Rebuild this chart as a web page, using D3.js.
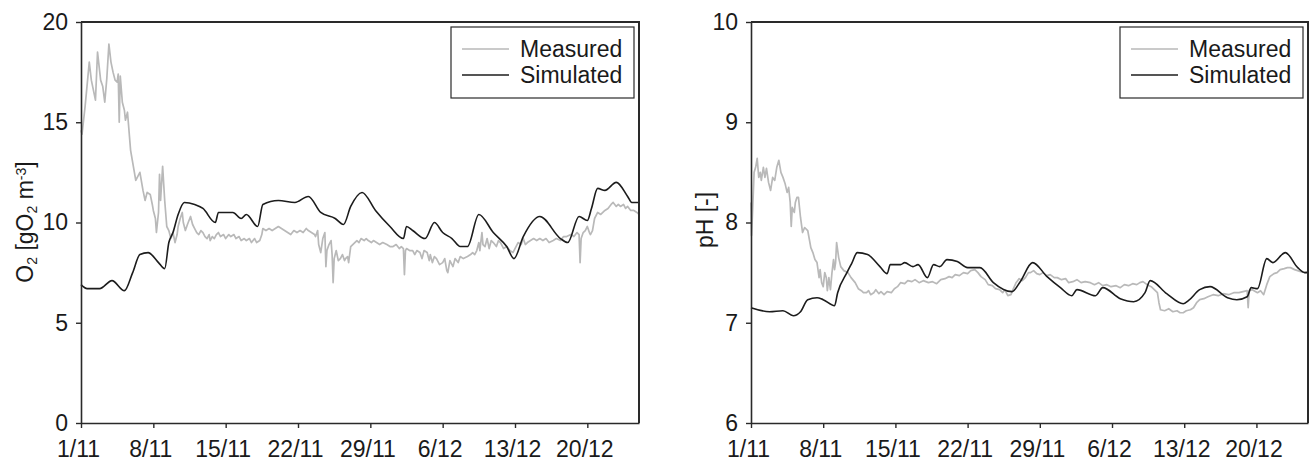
<!DOCTYPE html>
<html>
<head>
<meta charset="utf-8">
<script src="https://cdn.jsdelivr.net/npm/d3@7"></script>
<style>
  html, body { margin: 0; padding: 0; background: #fff; }
  svg { display: block; font-family: "Liberation Sans", Arial, sans-serif; }
</style>
</head>
<body>
<svg id="chart" width="1314" height="466"></svg>
<script>
// Time axis: day offsets counted from 1 November
const xTickDays = [0, 7, 14, 21, 28, 35, 42, 49];
const xTickLabels = ["1/11", "8/11", "15/11", "22/11", "29/11", "6/12", "13/12", "20/12"];
const dayRange = [0, 54];

const o2Ticks = [0, 5, 10, 15, 20];
const phTicks = [6, 7, 8, 9, 10];

const seriesNames = ["Measured", "Simulated"];

// Dissolved oxygen [gO2 m-3], [day, value]
const o2Measured = [
  [0,14.6],[0.1,14.4],[0.4,15.8],[0.8,18.0],[1.0,17.1],[1.2,16.6],[1.4,16.1],[1.6,18.5],
  [1.9,17.1],[2.1,16.8],[2.3,16.0],[2.5,17.2],[2.7,18.9],[2.9,18.0],[3.1,17.5],[3.3,17.1],
  [3.5,17.0],[3.6,17.4],[3.7,15.0],[3.8,17.3],[4.0,16.0],[4.2,15.6],[4.3,15.1],[4.5,15.5],
  [4.8,13.6],[5.0,13.0],[5.3,12.1],[5.5,12.3],[5.7,12.5],[6.0,11.6],[6.2,11.1],[6.4,11.5],
  [6.7,11.4],[6.9,10.9],[7.0,10.6],[7.2,10.2],[7.3,9.5],[7.5,10.5],[7.6,12.4],[7.7,11.1],
  [7.9,12.8],[8.1,11.1],[8.3,9.8],[8.5,9.6],[8.7,9.2],[8.9,9.5],[9.1,9.0],[9.3,9.4],
  [9.4,9.8],[9.6,10.2],[9.8,10.5],[9.9,10.0],[10.1,9.6],[10.3,9.9],[10.6,10.3],[10.8,9.9],
  [11.0,9.7],[11.2,9.5],[11.4,9.4],[11.6,9.6],[11.8,9.5],[12.0,9.3],[12.2,9.2],[12.4,9.4],
  [12.5,9.1],[12.7,9.3],[12.9,9.2],[13.1,9.4],[13.3,9.5],[13.5,9.3],[13.8,9.4],[14.0,9.2],
  [14.3,9.4],[14.5,9.3],[14.8,9.4],[15.0,9.2],[15.3,9.3],[15.5,9.1],[15.8,9.2],[16.0,9.1],
  [16.3,9.2],[16.5,9.0],[16.8,9.2],[17.0,9.0],[17.3,9.1],[17.5,9.4],[17.6,9.7],[17.9,9.6],
  [18.2,9.7],[18.5,9.6],[18.8,9.7],[19.1,9.8],[19.4,9.7],[19.7,9.6],[20.0,9.5],[20.3,9.4],
  [20.6,9.6],[20.9,9.5],[21.2,9.6],[21.5,9.5],[21.8,9.7],[22.0,9.6],[22.3,9.5],[22.6,9.4],
  [22.7,9.3],[22.9,9.6],[23.0,8.9],[23.2,8.5],[23.4,9.2],[23.6,9.5],[23.7,7.8],[23.8,8.6],
  [24.0,8.9],[24.2,9.1],[24.3,8.4],[24.4,7.0],[24.5,8.2],[24.7,8.6],[24.9,8.1],[25.1,8.2],
  [25.3,8.4],[25.5,8.1],[25.6,8.2],[25.8,8.3],[25.9,8.0],[26.1,8.8],[26.3,8.9],[26.5,9.0],
  [26.7,9.1],[26.9,9.0],[27.1,9.2],[27.4,9.1],[27.6,9.2],[27.8,9.1],[28.1,9.0],[28.3,9.1],
  [28.6,9.0],[28.9,8.9],[29.2,9.0],[29.6,8.9],[29.9,8.8],[30.2,8.8],[30.5,8.9],[30.8,8.7],
  [31.0,8.8],[31.2,8.7],[31.3,7.4],[31.4,8.6],[31.5,8.7],[31.8,8.6],[32.1,8.6],[32.3,8.4],
  [32.5,8.6],[32.8,8.5],[33.0,8.2],[33.2,8.6],[33.5,8.5],[33.7,8.1],[33.8,8.4],[34.0,8.0],
  [34.2,8.3],[34.4,8.2],[34.7,7.9],[35.0,8.0],[35.2,8.2],[35.4,7.6],[35.5,7.5],[35.7,8.1],
  [36.0,7.8],[36.2,8.2],[36.5,8.0],[36.7,8.3],[37.0,8.2],[37.4,8.3],[37.7,8.4],[37.9,8.5],
  [38.1,8.4],[38.3,8.6],[38.5,9.0],[38.6,8.6],[38.8,9.5],[38.9,8.9],[39.1,8.8],[39.3,9.2],
  [39.5,8.7],[39.7,9.1],[39.9,9.0],[40.2,8.8],[40.4,9.1],[40.6,9.0],[40.9,8.7],[41.2,8.8],
  [41.5,8.6],[41.8,8.5],[42.0,8.7],[42.3,9.0],[42.6,8.9],[42.8,9.2],[43.0,8.9],[43.2,9.0],
  [43.5,9.1],[43.8,9.2],[44.1,9.1],[44.4,9.2],[44.7,9.1],[45.0,9.2],[45.3,9.0],[45.7,9.1],
  [46.0,9.2],[46.4,9.1],[46.7,9.3],[47.0,9.3],[47.4,9.4],[47.7,9.3],[48.0,9.5],[48.2,9.4],
  [48.3,8.0],[48.4,9.2],[48.6,9.5],[48.8,9.6],[49.0,9.8],[49.2,9.5],[49.3,9.4],[49.5,9.6],
  [49.7,10.2],[50.0,10.5],[50.3,10.4],[50.7,10.6],[51.0,10.7],[51.3,10.9],[51.5,11.0],
  [51.8,10.8],[52.0,10.9],[52.2,10.8],[52.5,10.9],[52.7,10.7],[52.9,10.8],[53.2,10.6],
  [53.5,10.6],[53.8,10.5],[54.0,10.4]
];
const o2Simulated = [
  [0,6.9],[0.6,6.7],[1.8,6.7],[3.0,7.1],[4.2,6.6],[5.0,7.5],[5.7,8.4],[6.5,8.5],
  [7.5,8.0],[8.1,7.7],[8.5,9.0],[8.9,9.5],[9.4,10.4],[10.0,11.0],[11.0,10.9],[11.8,10.7],
  [13.0,10.0],[13.3,10.5],[14.7,10.5],[15.5,10.2],[16.0,10.4],[17.1,9.8],[17.6,10.9],
  [19.1,11.1],[20.7,11.0],[22.0,11.3],[23.2,10.5],[24.6,10.2],[25.4,9.9],[26.1,10.8],
  [27.2,11.5],[28.5,10.6],[29.9,9.8],[31.2,9.2],[31.5,9.8],[32.1,9.6],[33.3,9.2],[34.2,10.0],
  [35.0,9.5],[35.9,9.2],[36.7,8.8],[37.4,8.8],[38.5,10.4],[39.9,9.5],[41.2,8.8],[41.9,8.2],
  [42.8,9.3],[44.4,10.3],[46.4,9.2],[47.1,9.0],[48.2,10.3],[49.0,10.1],[49.4,10.7],[50.0,11.7],
  [50.7,11.6],[51.8,12.0],[52.9,11.3],[53.3,11.0],[54.0,11.0]
];

// pH [-], [day, value]
const phMeasured = [
  [0,8.2],[0.05,7.87],[0.15,8.1],[0.3,8.5],[0.45,8.55],[0.6,8.64],[0.75,8.45],[0.9,8.5],
  [1.0,8.42],[1.2,8.55],[1.35,8.45],[1.5,8.54],[1.7,8.4],[1.9,8.32],[2.1,8.45],[2.3,8.42],
  [2.5,8.55],[2.7,8.62],[2.9,8.5],[3.1,8.45],[3.3,8.39],[3.5,8.3],[3.65,8.35],[3.8,8.2],
  [3.9,7.96],[4.0,8.15],[4.2,8.1],[4.3,8.2],[4.45,8.25],[4.6,8.25],[4.8,8.05],[5.0,7.9],
  [5.2,7.95],[5.5,7.92],[5.8,7.75],[6.0,7.7],[6.2,7.63],[6.4,7.6],[6.6,7.45],[6.7,7.53],
  [6.85,7.4],[7.0,7.36],[7.15,7.5],[7.3,7.45],[7.4,7.32],[7.55,7.45],[7.7,7.33],[7.85,7.5],
  [8.0,7.63],[8.1,7.53],[8.2,7.6],[8.3,7.8],[8.5,7.65],[8.7,7.56],[9.0,7.52],[9.4,7.5],
  [9.7,7.45],[10.1,7.4],[10.4,7.34],[10.7,7.32],[10.9,7.3],[11.2,7.3],[11.4,7.32],[11.6,7.28],
  [11.9,7.3],[12.1,7.33],[12.4,7.29],[12.6,7.31],[12.9,7.28],[13.2,7.31],[13.6,7.3],
  [13.9,7.34],[14.2,7.36],[14.5,7.4],[14.9,7.39],[15.2,7.42],[15.6,7.41],[15.9,7.43],
  [16.3,7.4],[16.7,7.42],[17.2,7.4],[17.6,7.41],[18.0,7.39],[18.4,7.43],[18.8,7.44],
  [19.2,7.46],[19.5,7.45],[19.8,7.48],[20.2,7.47],[20.6,7.5],[21.0,7.49],[21.3,7.52],
  [21.7,7.53],[22.0,7.5],[22.3,7.46],[22.7,7.43],[23.0,7.38],[23.4,7.37],[23.7,7.34],
  [24.1,7.33],[24.4,7.3],[24.6,7.33],[24.9,7.27],[25.2,7.28],[25.4,7.33],[25.7,7.4],
  [26.0,7.44],[26.3,7.42],[26.6,7.45],[26.9,7.5],[27.1,7.5],[27.4,7.52],[27.7,7.49],
  [28.0,7.48],[28.3,7.5],[28.7,7.47],[29.0,7.48],[29.4,7.45],[29.7,7.45],[30.1,7.43],
  [30.5,7.44],[30.8,7.4],[31.2,7.41],[31.6,7.43],[32.0,7.4],[32.4,7.41],[32.9,7.4],
  [33.3,7.38],[33.7,7.4],[34.1,7.37],[34.5,7.38],[34.9,7.36],[35.4,7.37],[35.8,7.35],
  [36.2,7.38],[36.6,7.37],[37.0,7.39],[37.4,7.38],[37.7,7.4],[38.0,7.41],[38.4,7.38],
  [38.8,7.36],[39.1,7.33],[39.4,7.3],[39.55,7.2],[39.7,7.13],[40.1,7.12],[40.5,7.14],
  [40.9,7.11],[41.3,7.12],[41.6,7.1],[41.9,7.1],[42.2,7.12],[42.6,7.13],[42.9,7.15],
  [43.2,7.2],[43.5,7.23],[43.9,7.24],[44.3,7.26],[44.8,7.28],[45.3,7.27],[45.8,7.29],
  [46.3,7.28],[46.8,7.3],[47.3,7.3],[47.7,7.31],[48.1,7.32],[48.2,7.15],[48.3,7.32],
  [48.6,7.33],[49.1,7.3],[49.4,7.32],[49.7,7.28],[50.0,7.38],[50.3,7.46],[50.7,7.49],
  [51.0,7.5],[51.3,7.53],[51.7,7.54],[52.0,7.55],[52.3,7.55],[52.7,7.53],[53.0,7.52],
  [53.3,7.51],[53.7,7.5],[54.0,7.51]
];
const phSimulated = [
  [0,7.15],[1.8,7.11],[3.1,7.12],[4.1,7.07],[4.8,7.11],[5.5,7.23],[6.4,7.25],[7.0,7.23],
  [8.1,7.17],[8.4,7.30],[9.3,7.5],[9.8,7.6],[10.3,7.7],[11.3,7.68],[12.5,7.56],[13.2,7.49],
  [13.5,7.58],[14.5,7.58],[14.9,7.6],[15.7,7.56],[16.2,7.58],[17.1,7.45],[17.7,7.58],
  [18.3,7.56],[19.0,7.63],[20.0,7.61],[21.0,7.55],[22.2,7.55],[23.5,7.4],[25.3,7.31],
  [26.1,7.41],[27.3,7.6],[28.7,7.46],[30.0,7.35],[31.1,7.27],[31.6,7.33],[33.4,7.27],
  [34.1,7.35],[35.8,7.24],[37.1,7.21],[38.2,7.3],[38.7,7.42],[40.3,7.29],[41.9,7.19],
  [42.4,7.22],[43.5,7.33],[44.5,7.36],[46.2,7.25],[47.1,7.23],[48.1,7.26],[48.5,7.35],
  [49.1,7.34],[50.0,7.64],[50.6,7.6],[51.8,7.7],[53.0,7.55],[53.7,7.5],[54.0,7.5]
];

const START = Date.UTC(2010, 10, 1);
const toDate = d => new Date(START + d * 864e5);

const COLORS = { measured: "#b9b9b9", simulated: "#1c1c1c", axis: "#2a2a2a" };
const FONT = 23;

const svg = d3.select("#chart");

function drawPanel(opts) {
  const { left, right, top, bottom, domain, ticks, measured, simulated } = opts;
  const x = d3.scaleUtc().domain(dayRange.map(toDate)).range([left, right]);
  const y = d3.scaleLinear().domain(domain).range([bottom, top]);
  const g = svg.append("g");

  // measured series is drawn point to point, simulated as a smooth curve
  const rawLine = d3.line().x(d => x(toDate(d[0]))).y(d => y(d[1]));
  const smoothLine = d3.line().curve(d3.curveMonotoneX)
    .x(d => x(toDate(d[0]))).y(d => y(d[1]));
  g.append("path").datum(measured)
    .attr("fill", "none").attr("stroke", COLORS.measured)
    .attr("stroke-width", 1.7).attr("stroke-linejoin", "round")
    .attr("d", rawLine);
  g.append("path").datum(simulated)
    .attr("fill", "none").attr("stroke", COLORS.simulated)
    .attr("stroke-width", 1.6).attr("stroke-linejoin", "round")
    .attr("d", smoothLine);

  // x axis
  const xAxis = d3.axisBottom(x)
    .tickValues(xTickDays.map(toDate))
    .tickFormat((d, i) => xTickLabels[i])
    .tickSize(5).tickSizeOuter(0).tickPadding(13);
  const gx = g.append("g").attr("transform", `translate(0,${bottom})`).call(xAxis);
  gx.selectAll(".tick text").attr("dx", -3);

  // y axis
  const yAxis = d3.axisLeft(y).tickValues(ticks).tickFormat(d3.format("d"))
    .tickSize(5).tickSizeOuter(0).tickPadding(8);
  const gy = g.append("g").attr("transform", `translate(${left},0)`).call(yAxis);

  [gx, gy].forEach(a => {
    a.select(".domain").attr("stroke", COLORS.axis).attr("stroke-width", 1.6);
    a.selectAll(".tick line").attr("stroke", COLORS.axis).attr("stroke-width", 1.4);
    a.selectAll(".tick text").attr("fill", "#1a1a1a")
      .style("font-family", '"Liberation Sans", Arial, sans-serif')
      .style("font-size", FONT + "px");
  });

  // top and right frame
  g.append("path")
    .attr("d", `M${left},${top}H${right}V${bottom}`)
    .attr("fill", "none").attr("stroke", COLORS.axis).attr("stroke-width", 2);

  // legend
  const lw = 183, lh = 71;
  const lx = right - 5 - lw, ly = top + 5;
  const lg = g.append("g").attr("transform", `translate(${lx},${ly})`);
  lg.append("rect").attr("width", lw).attr("height", lh)
    .attr("fill", "#fff").attr("stroke", COLORS.axis).attr("stroke-width", 1.2);
  seriesNames.forEach((name, i) => {
    const yy = 22 + i * 26;
    lg.append("line").attr("x1", 11).attr("x2", 58).attr("y1", yy).attr("y2", yy)
      .attr("stroke", i === 0 ? COLORS.measured : COLORS.simulated).attr("stroke-width", 1.6);
    lg.append("text").attr("x", 69).attr("y", yy + 8)
      .attr("fill", "#1a1a1a").style("font-size", FONT + "px").text(name);
  });
  return g;
}

// Left panel: dissolved oxygen
drawPanel({ left: 81, right: 639, top: 22, bottom: 423, domain: [0, 20], ticks: o2Ticks,
  measured: o2Measured, simulated: o2Simulated });

const o2Label = svg.append("text")
  .attr("transform", "translate(33,222) rotate(-90)")
  .attr("text-anchor", "middle").attr("fill", "#1a1a1a")
  .style("font-size", FONT + "px");
o2Label.append("tspan").text("O");
o2Label.append("tspan").attr("baseline-shift", "-30%").style("font-size", "14px").text("2");
o2Label.append("tspan").text(" [gO");
o2Label.append("tspan").attr("baseline-shift", "-30%").style("font-size", "14px").text("2");
o2Label.append("tspan").text(" m");
o2Label.append("tspan").attr("baseline-shift", "50%").style("font-size", "14px").text("-3");
o2Label.append("tspan").text("]");

// Right panel: pH
drawPanel({ left: 751, right: 1308, top: 22, bottom: 423, domain: [6, 10], ticks: phTicks,
  measured: phMeasured, simulated: phSimulated });

svg.append("text")
  .attr("transform", "translate(713,220) rotate(-90)")
  .attr("text-anchor", "middle").attr("fill", "#1a1a1a")
  .style("font-size", FONT + "px")
  .text("pH [-]");
</script>
</body>
</html>
